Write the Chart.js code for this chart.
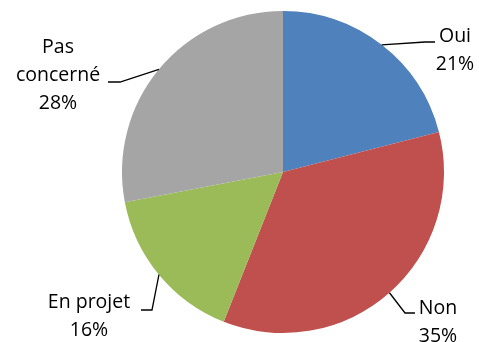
<!DOCTYPE html>
<html>
<head>
<meta charset="utf-8">
<script src="https://cdn.jsdelivr.net/npm/chart.js@4"></script>
<style>
  html, body { margin: 0; padding: 0; background: #fff; }
  #wrap { width: 479px; height: 342px; }
</style>
</head>
<body>
<div id="wrap"><canvas id="canvas" width="479" height="342"></canvas></div>
<script>
// data
const categories = ['Oui', 'Non', 'En projet', 'Pas concerné'];
const values = [21, 35, 16, 28];
const colors = ['#4F81BD', '#C0504D', '#9BBB59', '#A5A5A5'];

// where each label sits (text centre x, first line y) and the leader bend
const labelPos = [
  { x: 455, y: 36, bend: [425, 42], end: [435, 42] },
  { x: 438, y: 308, bend: [405, 313], end: [415, 313] },
  { x: 89, y: 302, bend: [152, 310], end: [141, 310] },
  { x: 58, y: 47, bend: [120, 82], end: [108, 82] }
];

const labelFont = '19.5px "Open Sans"';

const pieLabels = {
  id: 'pieLabels',
  afterDraw(chart) {
    const ctx = chart.ctx;
    const arcs = chart.getDatasetMeta(0).data;
    ctx.save();
    arcs.forEach((arc, i) => {
      const p = arc.getProps(['x', 'y', 'startAngle', 'endAngle', 'outerRadius'], true);
      const mid = (p.startAngle + p.endAngle) / 2;
      const sx = p.x + Math.cos(mid) * p.outerRadius;
      const sy = p.y + Math.sin(mid) * p.outerRadius;
      const lp = labelPos[i];
      ctx.beginPath();
      ctx.strokeStyle = '#000';
      ctx.lineWidth = 1.3;
      ctx.moveTo(sx, sy);
      ctx.lineTo(lp.bend[0], lp.bend[1]);
      ctx.lineTo(lp.end[0], lp.end[1]);
      ctx.stroke();

      const total = values.reduce((a, b) => a + b, 0);
      const pct = Math.round(values[i] / total * 100) + '%';
      const lines = categories[i] === 'Pas concerné' ? ['Pas', 'concerné', pct] : [categories[i], pct];
      ctx.fillStyle = '#000';
      ctx.font = labelFont;
      ctx.textAlign = 'center';
      ctx.textBaseline = 'middle';
      lines.forEach((t, k) => ctx.fillText(t, lp.x, lp.y + k * 28));
    });
    ctx.restore();
  }
};

new Chart(document.getElementById('canvas').getContext('2d'), {
  type: 'pie',
  data: {
    labels: categories,
    datasets: [{
      data: values,
      backgroundColor: colors,
      borderWidth: 0
    }]
  },
  options: {
    responsive: false,
    animation: false,
    layout: { padding: { left: 122, right: 35, top: 11, bottom: 9 } },
    plugins: {
      legend: { display: false },
      tooltip: { enabled: false }
    }
  },
  plugins: [pieLabels]
});
</script>
</body>
</html>
